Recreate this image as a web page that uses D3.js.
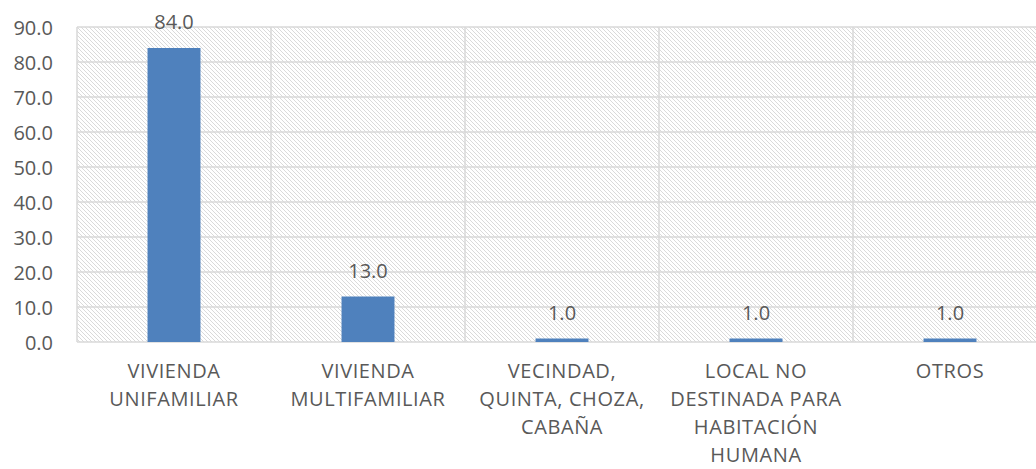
<!DOCTYPE html>
<html>
<head>
<meta charset="utf-8">
<script src="https://cdn.jsdelivr.net/npm/d3@7"></script>
<style>
  body { margin: 0; background: #fff; }
  text { font-family: "Open Sans", sans-serif; fill: #595959; }
</style>
</head>
<body>
<div id="chart"></div>
<script>
// chart data
let categories = ["VIVIENDA UNIFAMILIAR", "VIVIENDA MULTIFAMILIAR", "VECINDAD, QUINTA, CHOZA, CABAÑA", "LOCAL NO DESTINADA PARA HABITACIÓN HUMANA", "OTROS"];
let categoryLines = [
  ["VIVIENDA", "UNIFAMILIAR"],
  ["VIVIENDA", "MULTIFAMILIAR"],
  ["VECINDAD,", "QUINTA, CHOZA,", "CABAÑA"],
  ["LOCAL NO", "DESTINADA PARA", "HABITACIÓN", "HUMANA"],
  ["OTROS"]
];
let values = [84.0, 13.0, 1.0, 1.0, 1.0];
let yTicks = [0, 10, 20, 30, 40, 50, 60, 70, 80, 90];

function loadChart() {
  let svgWidth = 1036;
  let svgHeight = 469;

  let margin = { top: 27, left: 77 };
  let width = 970;   // plot runs past the right edge, as in the source
  let height = 315;

  let svg = d3.select("#chart")
    .append("svg")
    .attr("width", svgWidth)
    .attr("height", svgHeight);

  // hatched plot background
  let defs = svg.append("defs");
  let pat = defs.append("pattern")
    .attr("id", "hatch")
    .attr("patternUnits", "userSpaceOnUse")
    .attr("width", 4)
    .attr("height", 4);
  [[0, 0], [1, 1], [2, 2], [3, 3]].forEach(p => {
    pat.append("rect")
      .attr("x", p[0]).attr("y", p[1])
      .attr("width", 1).attr("height", 1)
      .attr("fill", "#dadada");
  });

  let chartGroup = svg.append("g")
    .attr("transform", `translate(${margin.left}, ${margin.top})`);

  let xScale = d3.scaleBand()
    .domain(categories)
    .range([0, width])
    .padding(0);

  let yScale = d3.scaleLinear()
    .domain([0, 90])
    .range([height, 0]);

  chartGroup.append("rect")
    .attr("width", width)
    .attr("height", height)
    .attr("fill", "url(#hatch)");

  // horizontal gridlines
  chartGroup.append("g").selectAll("line")
    .data(yTicks)
    .enter()
    .append("line")
    .attr("x1", 0)
    .attr("x2", width)
    .attr("y1", d => yScale(d))
    .attr("y2", d => yScale(d))
    .attr("stroke", "#d9d9d9")
    .attr("stroke-width", 1.5);

  // vertical gridlines at category boundaries
  chartGroup.append("g").selectAll("line")
    .data(categories.concat(["end"]))
    .enter()
    .append("line")
    .attr("x1", (d, i) => i * xScale.step())
    .attr("x2", (d, i) => i * xScale.step())
    .attr("y1", 0)
    .attr("y2", height)
    .attr("stroke", "#d9d9d9")
    .attr("stroke-width", 1.5);

  // y axis
  let yAxis = d3.axisLeft(yScale)
    .tickValues(yTicks)
    .tickSize(0)
    .tickPadding(10)
    .tickFormat(d3.format(".1f"));

  let yG = chartGroup.append("g").call(yAxis);
  yG.select(".domain").remove();
  yG.selectAll("text")
    .attr("font-size", "20px")
    .attr("font-family", "'Open Sans', sans-serif")
    .attr("fill", "#595959")
    .attr("dy", "0.36em")
    .attr("x", -24);

  // bars
  let barW = xScale.bandwidth() * 0.273;
  chartGroup.selectAll(".bar")
    .data(values)
    .enter()
    .append("rect")
    .attr("class", "bar")
    .attr("x", (d, i) => xScale(categories[i]) + (xScale.bandwidth() - barW) / 2)
    .attr("y", d => yScale(d))
    .attr("width", barW)
    .attr("height", d => height - yScale(d))
    .attr("fill", "#4f81bd");

  // value labels
  chartGroup.append("g").selectAll("text")
    .data(values)
    .enter()
    .append("text")
    .attr("x", (d, i) => xScale(categories[i]) + xScale.bandwidth() / 2)
    .attr("y", d => yScale(d) - 19)
    .attr("text-anchor", "middle")
    .attr("font-size", "20px")
    .attr("fill", "#404040")
    .text(d => d3.format(".1f")(d));

  // category labels
  let catG = chartGroup.append("g").selectAll("text")
    .data(categoryLines)
    .enter()
    .append("text")
    .attr("text-anchor", "middle")
    .attr("font-size", "20px")
    .attr("letter-spacing", "0.6px")
    .attr("fill", "#595959");

  catG.each(function(lines, i) {
    let cx = xScale(categories[i]) + xScale.bandwidth() / 2;
    d3.select(this).selectAll("tspan")
      .data(lines)
      .enter()
      .append("tspan")
      .attr("x", cx)
      .attr("y", (l, j) => height + 36 + j * 28)
      .text(l => l);
  });
}

loadChart();
</script>
</body>
</html>
